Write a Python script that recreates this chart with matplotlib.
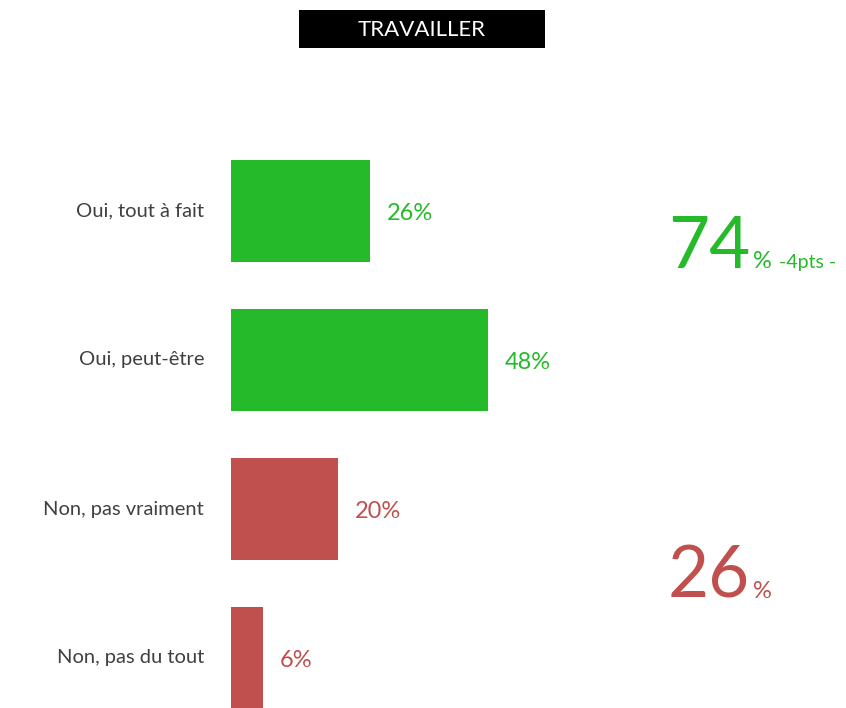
import matplotlib.pyplot as plt

# data
title = "TRAVAILLER"
categories = ["Oui, tout à fait", "Oui, peut-être", "Non, pas vraiment", "Non, pas du tout"]
values = [26, 48, 20, 6]
positive = [True, True, False, False]
trend_text = "-4pts -"

green = "#25BA29"
red = "#C0504D"
grey = "#404040"
plt.rcParams["font.family"] = ["Lato", "DejaVu Sans"]

W, H = 846, 708
fig = plt.figure(figsize=(W / 100, H / 100), dpi=100)

# axes: bars start at x=231 px, 5.35 px per percent
left_px = 231
px_per_pct = 5.35
ax = fig.add_axes([left_px / W, 0, (W - left_px) / W, 1])
ax.set_xlim(0, (W - left_px) / px_per_pct)
# category i centred at y = 211 + 149*i px from top
ax.set_ylim((H - 211) / 149, -211 / 149)
ax.axis("off")

colors = [green if p else red for p in positive]
ypos = list(range(len(categories)))
ax.barh(ypos, values, height=102 / 149, color=colors)

for y, v, c, lab in zip(ypos, values, colors, categories):
    ax.text(v + 17 / px_per_pct, y + 0.02, f"{v}%", color=c, fontsize=17, va="center", ha="left")
    ax.text(-27 / px_per_pct, y, lab, color=grey, fontsize=14.5, va="center", ha="right")

# title box
fig.patches.append(plt.Rectangle((299 / W, 1 - 48 / H), 246 / W, 38 / H,
                                 transform=fig.transFigure, fc="black", ec="none", zorder=0))
fig.text(422 / W, 1 - 30 / H, title, color="white", fontsize=16, ha="center", va="center")

# totals
pos_total = sum(v for v, p in zip(values, positive) if p)
neg_total = sum(v for v, p in zip(values, positive) if not p)

fig.text(668 / W, 1 - 268 / H, str(pos_total), color=green, fontsize=51, ha="left", va="baseline")
fig.text(753 / W, 1 - 268 / H, "%", color=green, fontsize=17, ha="left", va="baseline")
fig.text(779 / W, 1 - 268 / H, trend_text, color=green, fontsize=14, ha="left", va="baseline")

fig.text(668 / W, 1 - 598 / H, str(neg_total), color=red, fontsize=51, ha="left", va="baseline")
fig.text(753 / W, 1 - 598 / H, "%", color=red, fontsize=17, ha="left", va="baseline")

fig.savefig("out.png", dpi=100)
